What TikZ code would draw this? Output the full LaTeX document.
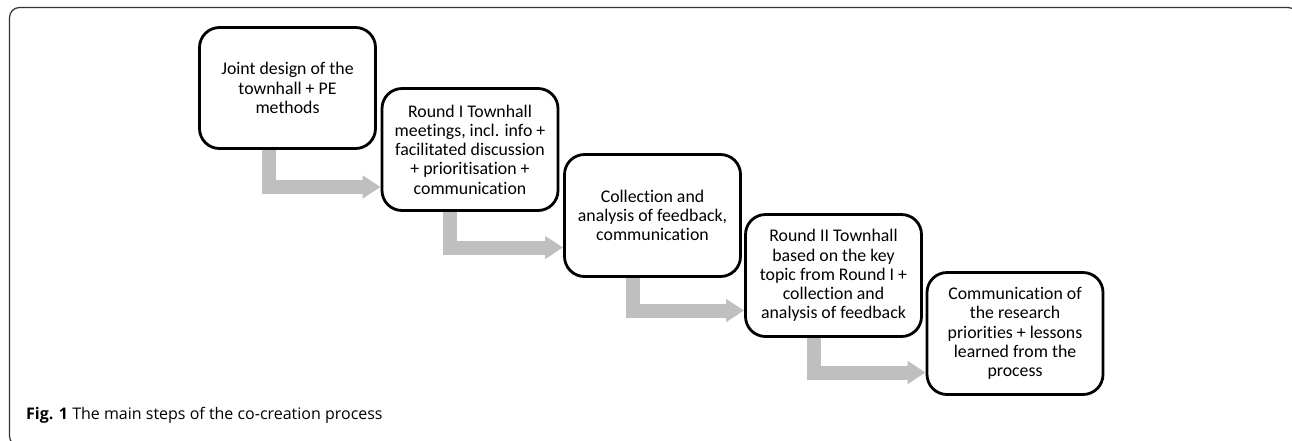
\documentclass[tikz,border=0pt]{standalone}
\usepackage{fontspec}
\setmainfont{Carlito}[Ligatures=NoCommon]
\newfontfamily\capfont{Open Sans}
\usetikzlibrary{arrows.meta}
\definecolor{arrowgray}{HTML}{BFBFBF}
\definecolor{framegray}{HTML}{333333}
\begin{document}
\begin{tikzpicture}[x=1pt,y=-1pt,
  stepbox/.style={draw=black, line width=2.8pt, rounded corners=20pt,
    minimum width=176pt, minimum height=122pt, align=center,
    font=\fontsize{17.8}{19.2}\selectfont, inner sep=0pt},
  flow/.style={draw=arrowgray, line width=14pt, line join=miter,
    -{Triangle[length=18pt,width=22pt]}}]
\useasboundingbox (0,0) rectangle (1292,440);
\begin{scope}
\clip (0,0) rectangle (1292,440);
\draw[framegray, line width=1.2pt, rounded corners=10pt]
  (1298,60) -- (1298,7.5) -- (9.5,7.5) -- (9.5,446) -- (60,446);
\end{scope}

\node[stepbox, minimum height=121pt] (b1) at (287.5,88) {Joint design of the\\townhall + PE\\methods};
\node[stepbox] (b2) at (470,149.5) {Round I Townhall\\meetings, incl. info +\\facilitated discussion\\+ prioritisation +\\communication};
\node[stepbox] (b3) at (652.5,215.5) {Collection and\\analysis of feedback,\\communication};
\node[stepbox] (b4) at (833.5,275.5) {Round II Townhall\\based on the key\\topic from Round I +\\collection and\\analysis of feedback};
\node[stepbox] (b5) at (1015,333.5) {Communication of\\the research\\priorities + lessons\\learned from the\\process};

\draw[flow] ([xshift=-18.5pt]b1.south) |- ([yshift=-37.5pt]b2.west);
\draw[flow] ([xshift=-20pt]b2.south) |- ([yshift=-32pt]b3.west);
\draw[flow] ([xshift=-20pt]b3.south) |- ([yshift=-35pt]b4.west);
\draw[flow] ([xshift=-20pt]b4.south) |- ([yshift=-39pt]b5.west);

\node[anchor=base west, inner sep=0pt, font=\capfont\fontsize{16}{18}\selectfont]
  (cap) at (26,419) {\textbf{Fig. 1} The main steps of the co-creation process};
\end{tikzpicture}
\end{document}
